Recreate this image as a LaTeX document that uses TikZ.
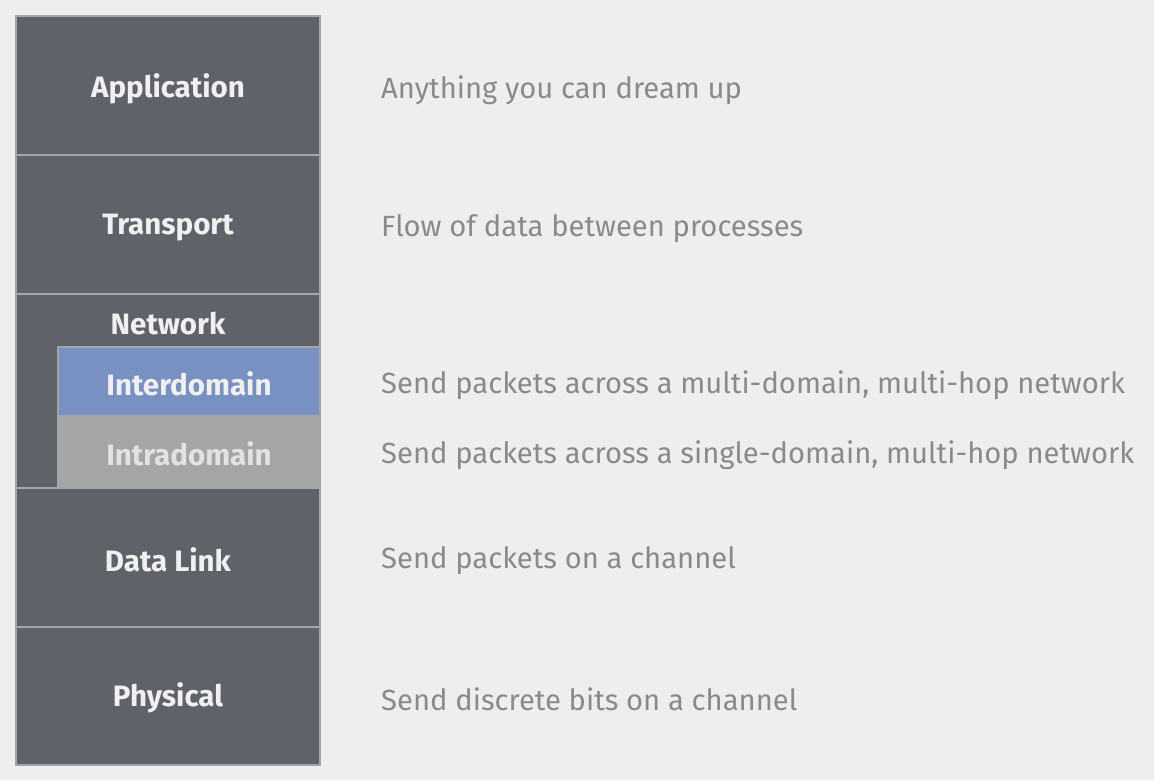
\documentclass[tikz,border=0pt]{standalone}
\usepackage{fontspec}
\setmainfont{Fira Sans}
\definecolor{bg}{HTML}{EEEEEE}
\definecolor{layer}{HTML}{5F6268}
\definecolor{edge}{HTML}{A3A5A8}
\definecolor{inter}{HTML}{7890C2}
\definecolor{intra}{HTML}{A4A5A6}
\definecolor{desc}{HTML}{8A8A8C}
\definecolor{lbl}{HTML}{F0F0F0}
\definecolor{intralbl}{HTML}{E2E2E2}
\begin{document}
\begin{tikzpicture}[x=1pt,y=-1pt,
  layerbox/.style={draw=edge,line width=1.5pt,fill=layer},
  lbltext/.style={text=lbl,font=\fontsize{29.5}{33}\selectfont\bfseries},
  desctext/.style={text=desc,anchor=west,inner sep=0pt,font=\fontsize{29.2}{34}\selectfont}]
\fill[bg] (0,0) rectangle (1154,780);
\useasboundingbox (0,0) rectangle (1154,780);
% layer boxes
\draw[layerbox] (16,16) rectangle (320,155);
\draw[layerbox] (16,155) rectangle (320,294);
\draw[layerbox] (16,294) rectangle (320,488);
\draw[layerbox] (16,488) rectangle (320,627);
\draw[layerbox] (16,627) rectangle (320,765);
\draw[draw=edge,line width=1.5pt,fill=inter] (58,347) rectangle (320,416);
\draw[draw=edge,line width=1.5pt,fill=intra] (58,416) rectangle (320,488);
% labels
\node[lbltext] (app) at (168,89) {Application};
\node[lbltext] (tra) at (168,228) {Transport};
\node[lbltext] (net) at (168,324) {Network};
\node[lbltext] (inter) at (189,384) {Interdomain};
\node[lbltext,text=intralbl] (intra) at (189,454) {Intradomain};
\node[lbltext] (dl) at (168,560) {Data Link};
\node[lbltext] (phy) at (168,698) {Physical};
% descriptions
\node[desctext] (dapp) at (381,90) {Anything you can dream up};
\node[desctext] (dtra) at (381,229) {Flow of data between processes};
\node[desctext] (dinter) at (381,385) {Send packets across a multi-domain, multi-hop network};
\node[desctext] (dintra) at (381,455) {Send packets across a single-domain, multi-hop network};
\node[desctext] (ddl) at (381,561) {Send packets on a channel};
\node[desctext] (dphy) at (381,699) {Send discrete bits on a channel};
\end{tikzpicture}
\end{document}
